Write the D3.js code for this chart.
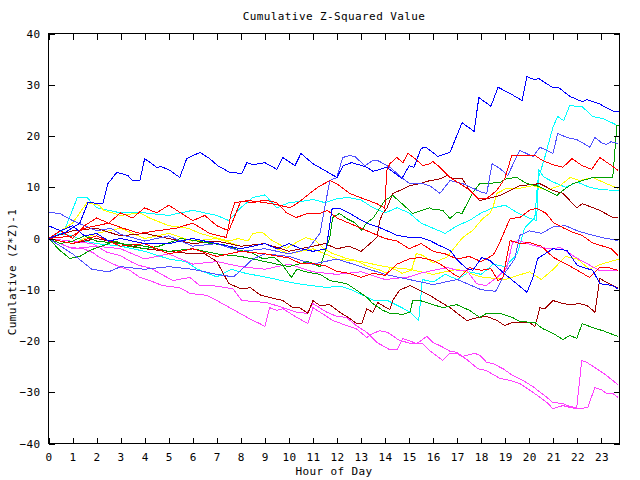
<!DOCTYPE html>
<html><head><meta charset="utf-8">
<script src="https://cdn.jsdelivr.net/npm/d3@7"></script>
<style>
body{margin:0;background:#fff;}
text{font-family:"DejaVu Sans Mono",monospace;font-size:11px;fill:#000;letter-spacing:0.4px;}
</style>
</head><body>
<svg id="chart" width="640" height="480"></svg>
<script>
const title = "Cumulative Z-Squared Value";
const xLabel = "Hour of Day";
const yLabel = "Cumulative (Z*Z)-1";
const hourTicks = d3.range(0, 24);
const valueTicks = [-40, -30, -20, -10, 0, 10, 20, 30, 40];
const xDomain = [0, 23.75];
const yDomain = [-40, 40];

const blueTop = [[0,0],[0.7,1.2],[1.3,3],[1.64,7],[2.26,6.8],[2.47,10.7],[2.84,12.9],[3.3,12.3],[3.5,11.3],[3.8,11.3],[4.0,15.6],[4.5,13.9],[4.7,14],[5.05,13.3],[5.46,11.9],[5.75,15.6],[6.3,16.8],[6.7,15.6],[7.04,14.2],[7.54,12.9],[8.04,12.7],[8.25,14.8],[8.5,14.4],[9.0,14.8],[9.5,13.5],[9.75,15.8],[10.25,14.2],[10.5,16.6],[11.0,14.6],[12.0,11.9],[12.25,14.2],[12.6,14.8],[13.2,14],[13.5,13.1],[14.07,13.9],[14.7,11.7],[15.0,14.2],[15.2,13.9],[15.5,17.6],[15.7,17.8],[16.2,16],[16.7,16.8],[17.2,22.6],[17.7,20.9],[17.9,27.5],[18.4,25.8],[18.7,29.5],[19.2,28.3],[19.7,26.9],[19.9,31.6],[20.2,31],[20.4,31.2],[20.95,29.5],[21.2,29.5],[21.7,27.7],[22.2,26.7],[22.4,27.1],[22.9,26.3],[23.5,24.8],[23.75,24.8]];
const lightBlueHigh = [[0,5.2],[0.5,4.8],[1,3.5],[1.5,2.5],[2,1.5],[2.6,2],[3,0.8],[4,-0.5],[5,0.5],[6,-1.5],[7,-1],[8,-2.5],[9,-2],[10,-3],[10.8,-2],[11.29,1.0],[11.7,11.3],[11.99,11.9],[12.24,15.8],[12.53,16.2],[12.74,16.0],[13.16,14.2],[13.49,15.2],[13.7,15.2],[14.2,13.9],[14.74,11.7],[15.03,10.7],[15.57,10.7],[15.86,10.3],[16.28,8.8],[16.7,11.3],[17.23,10.7],[17.65,9.8],[18.02,9.0],[18.23,8.8],[18.45,14.6],[18.77,13.7],[19.1,12.3],[19.6,17.2],[20.15,16.0],[20.44,17.8],[20.73,17.2],[20.98,16.6],[21.18,20.5],[21.56,19.7],[21.97,19.3],[22.2,18.7],[22.52,17.8],[22.73,19.7],[23.0,18.7],[23.2,18.3],[23.4,18.9],[23.68,18.5]];
const cyanBig = [[0,0],[0.5,1],[1,0.5],[1.5,-0.5],[2,-1],[3,-1.5],[4,-2.5],[5,-4],[5.7,-4.5],[6.2,-6],[7,-7.5],[7.6,-6],[8.2,-6.8],[9,-7.5],[10,-8.5],[10.6,-9],[11.5,-9.5],[12.2,-9.4],[12.6,-10],[13.5,-12],[14.1,-12.1],[14.7,-13.5],[15.05,-14.4],[15.4,-16],[15.55,-8],[16,-8.5],[16.5,-7],[17,-8],[17.5,-6.5],[18,-7],[18.5,-5],[19,-5.5],[19.5,-3],[19.8,2],[20.23,4.1],[20.35,11.3],[20.64,15.8],[20.98,21.7],[21.18,23.8],[21.43,23.0],[21.68,26.0],[21.9,25.8],[22.18,25.8],[22.64,23.8],[23.06,23.4],[23.43,22.6],[23.68,22.0]];
const greenHigh = [[0,0],[0.5,-1],[1,-0.5],[1.5,0.5],[2,-0.5],[3,-1],[4,-1.5],[5,-2.5],[6,-2],[7,-3],[8,-3.5],[9,-4.5],[10,-5.5],[10.8,-4.5],[11.3,-5.5],[11.7,0.2],[11.82,4.1],[12.1,4.9],[12.4,3.9],[12.74,3.1],[13.03,1.6],[13.24,3.1],[13.49,3.9],[13.99,7.4],[14.32,8.4],[14.7,6.8],[15.15,4.9],[15.86,6.0],[15.99,5.7],[16.4,5.5],[16.7,3.9],[16.98,5.1],[17.2,4.9],[17.65,9.0],[17.94,10.7],[18.77,10.9],[19.06,11.7],[19.48,11.9],[19.9,10.7],[20.31,10.3],[20.73,9.4],[21.15,8.4],[21.4,9.4],[21.8,10.7],[22.2,11.3],[22.64,11.9],[23.47,11.9],[23.64,22.0],[23.75,22.0]];
const greenLow = [[0,0],[0.47,-2.3],[0.89,-3.9],[1.3,-3.5],[1.72,-2.3],[2.2,-1.5],[2.8,-0.5],[3.3,-1.5],[4,-2],[4.6,-1.5],[5.5,0],[6.2,-0.5],[6.8,-1],[7.4,-1.3],[7.9,-2.3],[8.4,-2.7],[8.9,-3.9],[9.4,-3.7],[9.7,-4.9],[10.1,-7.6],[10.33,-6.0],[10.8,-6.6],[11.3,-7.0],[11.7,-8.2],[12.4,-8.8],[12.82,-10.1],[13.24,-11.5],[13.49,-12.7],[13.9,-14.0],[14.2,-14.6],[14.74,-14.8],[15.03,-14.4],[15.15,-12.1],[15.45,-12.1],[16.4,-13.5],[16.98,-12.9],[17.5,-14.0],[17.94,-15.4],[18.23,-14.6],[18.77,-14.6],[19.3,-15.4],[19.6,-16.2],[20.23,-16.4],[20.56,-17.6],[20.98,-18.5],[21.4,-19.7],[21.68,-18.9],[21.97,-19.5],[22.2,-16.6],[22.64,-17.4],[23.06,-18.0],[23.68,-19.1]];
const redHigh = [[0,0],[1,0.5],[1.5,2],[2,2.5],[2.5,3],[3.1,2],[3.8,1],[4.5,1.5],[5.3,2],[6,3],[6.7,1],[7.4,0.2],[7.6,5],[7.75,7.0],[8.3,7.4],[9,7.0],[9.5,6.6],[10.04,6.0],[10.33,6.8],[10.87,8.8],[11.2,10.0],[11.7,11.3],[11.99,10.7],[12.53,8.8],[13.07,7.8],[13.66,6.8],[13.99,5.9],[14.07,13.3],[14.2,14.6],[14.49,15.8],[14.74,14.8],[14.95,16.6],[15.24,15.6],[15.57,14.2],[15.86,14.6],[15.99,15.0],[16.28,13.9],[16.7,11.9],[17.11,10.7],[17.53,9.4],[17.86,7.8],[18.23,7.8],[18.65,9.4],[18.98,11.7],[19.27,16.2],[20.23,16.2],[20.56,15.2],[20.98,14.4],[21.4,13.9],[21.77,15.6],[22.2,14.2],[22.6,13.5],[22.93,15.8],[23.43,14.2],[23.68,13.3]];
const darkRedLow = [[0,0],[1,-1],[2,0],[3,-1],[4,-2],[5,-2.5],[6,-3],[6.5,-3],[7,-4.5],[7.5,-8.8],[8,-9.8],[8.4,-9.6],[8.8,-11],[9.2,-11.5],[9.75,-12.1],[10.16,-13.5],[10.45,-13.5],[10.79,-14.6],[11.0,-12.1],[11.29,-13.1],[11.7,-12.9],[12.12,-14.4],[12.53,-15.6],[12.82,-16.6],[13.03,-16.6],[13.24,-13.7],[13.49,-14.4],[13.7,-12.5],[14.2,-13.9],[14.32,-12.1],[14.6,-10.1],[15.03,-9.2],[15.45,-10.1],[15.86,-11.1],[16.2,-12.1],[16.7,-13.5],[17.4,-16.0],[17.86,-15.4],[18.23,-15.2],[18.65,-16.0],[18.98,-17.0],[19.27,-16.4],[20.02,-16.4],[20.23,-17.2],[20.44,-13.5],[20.64,-13.7],[20.98,-12.1],[21.4,-12.7],[21.7,-12.9],[22.1,-12.7],[22.4,-13.1],[22.64,-14.0],[22.73,-14.4],[22.93,-7.8],[23.47,-9.2],[23.68,-9.6]];
const darkRedMid = [[0,0],[1,1.5],[2,2],[3,0.5],[4,1],[5,0],[6,-1],[7,-0.5],[8,-1.5],[9,-1],[10,-2.5],[11,-1.5],[11.5,-1],[12,-2],[12.5,-1.5],[13,-2.5],[13.37,-1.0],[13.66,0.2],[13.78,3.5],[13.9,4.9],[14.07,5.9],[14.32,8.8],[14.62,9.4],[15.03,10.3],[15.45,10.7],[15.86,11.3],[16.2,11.5],[16.6,12.3],[16.8,11.7],[17.2,11.7],[17.5,9.5],[17.94,7.4],[18.77,8.4],[19.6,10.3],[20.44,10.7],[20.98,9.4],[21.4,8.8],[21.97,6.0],[22.2,6.8],[22.93,5.5],[23.47,4.1],[23.68,4.1]];
const blueMid = [[0,2.5],[0.5,1.5],[1,2.5],[1.5,0.5],[2,1],[2.5,-0.5],[3,0],[4,-1],[5,-1],[6,0],[7,-1],[8,-2],[9,-1],[9.5,-2],[10,-1],[10.5,-2],[11,-2.5],[11.55,-2],[11.8,5.9],[12.1,5.9],[12.53,4.9],[13.03,3.5],[13.3,2.9],[13.9,1.9],[14.5,0.6],[15.03,0.2],[15.46,0.2],[15.86,-0.4],[16.27,-1.4],[16.7,-2.3],[17.03,-4.3],[17.4,-5.9],[17.65,-6.2],[18.02,-3.7],[18.36,-4.3],[18.9,-6.6],[19.31,-8.2],[19.9,-10.5],[20.15,-7.6],[20.35,-3.9],[20.98,-2.0],[21.56,-2.3],[22.0,-5.3],[22.64,-6.2],[22.93,-8.8],[23.47,-9.2],[23.68,-9.8]];
const magentaA = [[0,0],[0.87,-1.76],[1.43,-1.95],[1.84,-2.73],[2.13,-3.7],[2.84,-5.3],[3.38,-6.2],[3.8,-7.6],[4.21,-8.2],[4.75,-9.2],[5.46,-9.6],[5.88,-10.7],[6.58,-11.1],[7.0,-12.1],[7.54,-13.5],[7.96,-14.6],[8.5,-16.0],[8.79,-16.6],[9.0,-17.2],[9.2,-13.5],[9.5,-14.0],[9.75,-13.7],[10.33,-15.4],[10.79,-16.6],[11.0,-13.5],[11.3,-14.4],[11.83,-16.0],[12.4,-17.0],[12.8,-17.6],[13.24,-19.3],[13.5,-18.5],[13.78,-18.0],[14.1,-18.3],[14.6,-19.9],[15.1,-20.5],[15.57,-20.5],[15.86,-21.9],[16.4,-23.8],[16.7,-22.4],[16.98,-22.4],[17.4,-23.6],[17.86,-25.4],[18.23,-25.8],[18.77,-27.3],[19.19,-27.7],[19.6,-28.3],[20.15,-30.0],[20.73,-32.0],[20.98,-33.2],[21.4,-32.6],[21.7,-33.0],[21.97,-33.2],[22.43,-33.0],[22.72,-29.1],[23.0,-29.5],[23.2,-30.2],[23.47,-30.2],[23.68,-31.0]];
const magentaB = [[0,0],[1.84,-1.0],[2.43,-2.7],[2.97,-3.3],[3.5,-4.7],[3.8,-5.3],[4.21,-5.7],[4.63,-6.8],[5.17,-8.2],[5.88,-7.6],[6.29,-9.2],[6.83,-9.2],[7.67,-9.8],[8.04,-12.1],[9.08,-12.5],[9.75,-13.5],[10.33,-14.4],[10.74,-14.6],[11.0,-12.7],[11.58,-14.4],[12.0,-15.2],[12.4,-15.4],[12.8,-17.0],[13.24,-18.3],[13.66,-20.3],[14.2,-21.7],[14.5,-21.7],[14.74,-19.5],[15.32,-20.5],[15.74,-19.1],[16.0,-20.3],[16.28,-20.9],[16.7,-22.0],[16.98,-22.2],[17.23,-23.0],[17.73,-22.4],[17.94,-22.8],[18.23,-24.2],[18.48,-24.4],[18.9,-25.4],[19.3,-26.7],[19.73,-27.7],[20.15,-28.9],[20.73,-31.0],[20.98,-32.0],[21.4,-32.2],[21.68,-32.8],[21.97,-33.0],[22.18,-23.8],[22.4,-24.2],[22.93,-25.8],[23.2,-26.7],[23.68,-28.5]];
const magentaMid = [[0,0],[1,-2],[2,-1.5],[3,-2],[4,-4],[5,-3],[6,-5],[7,-4.5],[8,-5.5],[9,-6],[10,-5],[11,-6.5],[12,-7],[13,-6.5],[14,-8],[15,-7.5],[15.45,-6.8],[16,-6.2],[16.6,-5.7],[17,-6.2],[17.4,-6.2],[17.8,-8.8],[18.2,-9.2],[18.65,-7.6],[19.06,-5.7],[19.3,-0.8],[19.55,-0.4],[20.2,-1.4],[20.8,-2.0],[21.3,-1.8],[21.6,-2.7],[22,-3.9],[22.4,-4.9],[22.9,-6.2],[23.4,-6.2],[23.68,-6.2]];
const yellowHigh = [[0,0],[0.5,1.5],[1,3],[1.6,7],[2.1,6.5],[2.3,5.5],[3,4.5],[3.8,5],[4.2,4],[5,2.5],[5.8,2],[6.3,1],[6.9,0.2],[7.5,-0.5],[7.9,0],[8.3,-0.5],[8.5,1],[8.9,1.2],[9.3,-0.4],[9.9,-1.9],[10.3,-0.8],[10.7,0.2],[11.1,-0.4],[11.4,-1.8],[11.8,-2.9],[12.4,-3.9],[12.8,-4.3],[13.2,-5.3],[13.8,-6.2],[14.1,-6.8],[14.2,-5.7],[14.5,-6.2],[14.7,-6.8],[15.1,-6.2],[15.3,-2.9],[15.57,-3.3],[15.86,-4.3],[15.99,-4.7],[16.55,-3.7],[16.8,-2.3],[17.23,0.2],[17.65,1.6],[18.06,3.9],[18.36,4.9],[18.48,6.0],[18.65,8.8],[19.06,9.8],[19.6,9.8],[20.15,10.3],[20.73,9.4],[21.27,10.3],[21.7,11.9],[22.1,11.3],[22.64,11.9],[23.2,10.7],[23.68,9.8]];
const yellowLow = [[0,0],[1,-1],[2,1],[3,2],[4,0],[5,1],[6,-0.5],[7,0],[8,-1.5],[9,-1],[10,-3],[11,-2],[12,-4],[13,-4.5],[14,-5.5],[15,-6],[16,-7],[17,-6],[18,-7.5],[19,-8],[20,-6.5],[20.5,-8],[21,-6],[21.5,-3.5],[22,-4],[22.5,-6],[23,-5],[23.75,-4]];
const cyanUpper = [[0,0],[0.7,2],[1.2,8],[1.6,8],[2,6],[3,5],[4,5],[5,4.5],[6,5.5],[7,4.5],[7.5,3.5],[8,6],[8.5,8],[9,8.5],[9.5,6],[10,7],[10.6,7.3],[11,7.6],[11.5,7],[12,7.8],[12.5,8],[13,7.5],[13.5,6],[14,5],[14.5,6],[15,5],[15.5,3],[16,2],[16.5,1],[17,2.5],[17.5,3.5],[18,5],[18.5,6],[19,6.5],[19.5,5],[20,4],[20.3,3.5],[20.4,13.3],[20.6,12],[21,11],[21.5,10],[22,11],[22.5,10],[23,9.5],[23.75,9.4]];
const redLow = [[0,0],[1,-1],[2,0.5],[3,-1.5],[4,-1],[5,-3],[6,-2],[7,-3.5],[8,-2.5],[9,-3],[10,-3.8],[10.5,-4.9],[11,-4.9],[11.5,-5.3],[12,-6.4],[12.5,-6.8],[13,-7.6],[13.5,-6.8],[14,-7.2],[14.5,-5],[15,-4],[15.45,-3.7],[16,-4.3],[16.4,-5.3],[16.8,-6.8],[17.1,-7.6],[17.5,-5.7],[18,-6.2],[18.4,-5.9],[18.7,-8.2],[18.9,-7.6],[19.2,-0.4],[19.6,-1.0],[20,-0.8],[20.5,-1.5],[21,-3.7],[21.5,-4.9],[22,-6.2],[22.5,-7.6],[22.9,-5.7],[23.3,-5.7],[23.68,-6.2]];
const redMid = [[0,0],[0.5,1.5],[1,0],[1.5,2.5],[2,4],[2.5,3],[3,5],[3.5,4],[4,6],[4.5,5],[5,6.5],[5.5,5],[6,3.5],[6.5,4.5],[7,2.5],[7.5,1.5],[8,7.3],[8.5,7],[9,7.5],[9.5,7],[9.9,5],[10.3,4.1],[10.8,4.9],[11.3,4.9],[11.6,5.5],[12,4],[12.5,3],[13,2],[13.5,1],[14,0],[14.5,-0.5],[15,-2],[15.5,-1],[16,-2.5],[16.5,-3],[17,-4],[17.5,-3.5],[18,-4.5],[18.5,-3.2],[18.7,-1.5],[19.2,3.9],[19.6,4.1],[20,5.5],[20.3,5.9],[20.7,4.9],[21,3.1],[21.4,2.1],[21.8,1.2],[22.2,0.6],[22.6,-0.8],[23.0,-1.4],[23.4,-2.0],[23.68,-3.3]];
const lightBlueLow = [[0,0],[1,-3],[1.8,-6],[2.5,-6.5],[3,-5.5],[4,-6],[5,-5.5],[6,-6],[7,-7],[7.7,-7.5],[8.5,-4],[9,-3],[10,-3.5],[11,-5],[12,-4],[13,-5.5],[14,-7],[15,-8],[16,-9],[17,-8],[18,-10],[18.6,-10.3],[19,-6.6],[19.4,-3.9],[19.6,0.6],[20,1.5],[20.5,1],[21,2.3],[21.5,2.5],[22,1.5],[22.5,0.8],[23,0.2],[23.68,-0.4]];

const seriesList = [
  {color: "#00ffff", values: cyanBig},
  {color: "#00ffff", values: cyanUpper},
  {color: "#ffff00", values: yellowHigh},
  {color: "#ffff00", values: yellowLow},
  {color: "#ff40ff", values: magentaA},
  {color: "#ff40ff", values: magentaB},
  {color: "#ff40ff", values: magentaMid},
  {color: "#a00000", values: darkRedLow},
  {color: "#a00000", values: darkRedMid},
  {color: "#00a000", values: greenHigh},
  {color: "#00a000", values: greenLow},
  {color: "#5050ff", values: lightBlueHigh},
  {color: "#5050ff", values: lightBlueLow},
  {color: "#ff0000", values: redHigh},
  {color: "#ff0000", values: redLow},
  {color: "#ff0000", values: redMid},
  {color: "#0000ff", values: blueMid},
  {color: "#0000ff", values: blueTop}
];

const svg = d3.select("#chart");
const x = d3.scaleLinear().domain(xDomain).range([48.5, 619.5]);
const y = d3.scaleLinear().domain(yDomain).range([443.5, 33.5]);

svg.append("rect").attr("width", 640).attr("height", 480).attr("fill", "#fff");

const line = d3.line().x(d => x(d[0])).y(d => y(d[1]));
svg.append("g").selectAll("path").data(seriesList).join("path")
  .attr("d", d => line(d.values))
  .attr("fill", "none")
  .attr("stroke", d => d.color)
  .attr("stroke-width", 1)
  .attr("shape-rendering", "crispEdges");

const tickLen = 6;
svg.append("g").attr("transform", `translate(0,${y(-40)})`)
  .call(d3.axisBottom(x).tickValues(hourTicks).tickSize(-tickLen).tickPadding(10).tickFormat(d3.format("d")))
  .call(g => g.select(".domain").remove());
svg.append("g").attr("transform", `translate(0,${y(40)})`)
  .call(d3.axisTop(x).tickValues(hourTicks).tickSize(-tickLen).tickFormat(""))
  .call(g => g.select(".domain").remove());
svg.append("g").attr("transform", `translate(${x(0)},0)`)
  .call(d3.axisLeft(y).tickValues(valueTicks).tickSize(-tickLen).tickPadding(8).tickFormat(d3.format("d")))
  .call(g => g.select(".domain").remove());
svg.append("g").attr("transform", `translate(${x(xDomain[1])},0)`)
  .call(d3.axisRight(y).tickValues(valueTicks).tickSize(-tickLen).tickFormat(""))
  .call(g => g.select(".domain").remove());
svg.selectAll(".tick line").attr("stroke", "#000").attr("shape-rendering", "crispEdges");
svg.selectAll(".tick text").attr("font-family", null).attr("font-size", null).attr("fill", "#000");

svg.append("rect")
  .attr("x", x(0)).attr("y", y(40))
  .attr("width", x(xDomain[1]) - x(0)).attr("height", y(-40) - y(40))
  .attr("fill", "none").attr("stroke", "#000").attr("shape-rendering", "crispEdges");

svg.append("text").attr("x", 334).attr("y", 20).attr("text-anchor", "middle").text(title);
svg.append("text").attr("x", 334).attr("y", 475).attr("text-anchor", "middle").text(xLabel);
svg.append("text").attr("transform", "translate(16,272) rotate(-90)").attr("text-anchor", "middle").text(yLabel);
</script>
</body></html>
